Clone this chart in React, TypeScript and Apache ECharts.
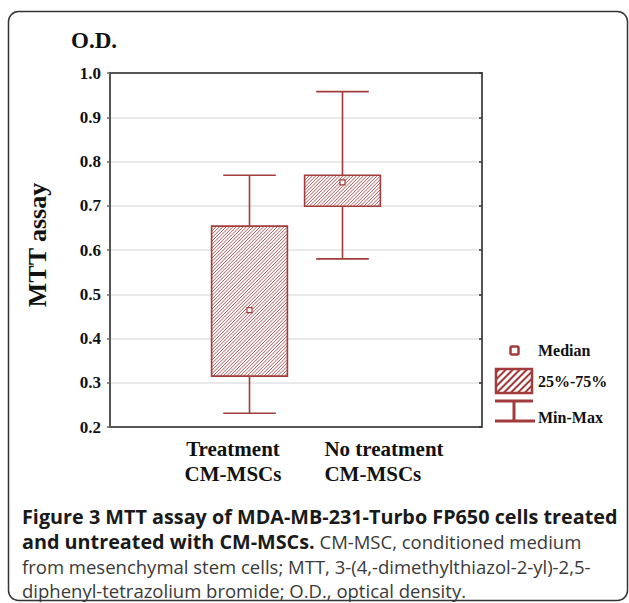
import React, { useEffect, useRef } from "react";
import * as echarts from "echarts";

const categories = ["Treatment\nCM-MSCs", "No treatment\nCM-MSCs"];
const minVals = [0.231, 0.58];
const q1Vals = [0.315, 0.699];
const medianVals = [0.464, 0.753];
const q3Vals = [0.654, 0.769];
const maxVals = [0.769, 0.958];
const yMin = 0.2;
const yMax = 1.0;
const yStep = 0.1;
const legendLabels = ["Median", "25%-75%", "Min-Max"];
const titleText = "O.D.";
const yName = "MTT assay";

const RED = "#a23b3b";
const SERIF = "'Liberation Serif', 'Times New Roman', serif";
const SANS = "'Open Sans', 'Noto Sans', sans-serif";

function hatchSegments(x0: number, y0: number, x1: number, y1: number, step: number) {
  const segs: number[][] = [];
  for (let c = x0 + y0 + step / 2; c < x1 + y1; c += step) {
    const ax = Math.max(x0, c - y1);
    const bx = Math.min(x1, c - y0);
    if (ax < bx) segs.push([ax, c - ax, bx, c - bx]);
  }
  return segs;
}

export default function App() {
  const ref = useRef<HTMLDivElement>(null);
  useEffect(() => {
    if (!ref.current) return;
    const chart = echarts.init(ref.current, null, { renderer: "svg" });
    const slots = ["", ...categories, ""];
    const xData = slots.map((s, i) => {
      if (i === 1) return { value: s, textStyle: { padding: [0, 33, 0, 0] } };
      if (i === 2) return { value: s, textStyle: { padding: [0, 0, 0, 83] } };
      return { value: s };
    });
    const rows = categories.map((_, i) => [i + 1, minVals[i], q1Vals[i], medianVals[i], q3Vals[i], maxVals[i]]);

    const legendHatch = hatchSegments(496, 369, 532, 393, 7).map((s) => ({
      type: "line",
      shape: { x1: s[0], y1: s[1], x2: s[2], y2: s[3] },
      style: { stroke: RED, lineWidth: 2 },
      silent: true,
    }));

    const captionLines = [
      { y: 516, text: "{b|Figure 3 MTT assay of MDA-MB-231-Turbo FP650 cells treated}" },
      { y: 541, text: "{b|and untreated with CM-MSCs.}{r| CM-MSC, conditioned medium}" },
      { y: 566, text: "{r|from mesenchymal stem cells; MTT, 3-(4,-dimethylthiazol-2-yl)-2,5-}" },
      { y: 590, text: "{r|diphenyl-tetrazolium bromide; O.D., optical density.}" },
    ];

    const option: any = {
      animation: false,
      backgroundColor: "#ffffff",
      title: {
        text: titleText,
        left: 66,
        top: 24,
        textStyle: { fontFamily: SERIF, fontWeight: "bold", fontSize: 23, color: "#111" },
      },
      grid: { left: 110, top: 73, right: 147, bottom: 176 },
      xAxis: [
        {
          type: "category",
          data: xData,
          position: "bottom",
          boundaryGap: true,
          axisLine: { lineStyle: { color: "#555", width: 2 } },
          axisTick: { alignWithLabel: true, inside: true, length: 3, lineStyle: { color: "#333", width: 1.5 } },
          axisLabel: {
            interval: 0,
            margin: 9,
            fontFamily: SERIF,
            fontWeight: "bold",
            fontSize: 21,
            lineHeight: 25,
            color: "#111",
            formatter: (v: string, idx: number) => {
              if (!v) return "";
              const key = idx === 2 ? "l" : "c";
              return v.split("\n").map((p) => `{${key}|${p}}`).join("\n");
            },
            rich: {
              c: { align: "center", fontFamily: SERIF, fontWeight: "bold", fontSize: 21, lineHeight: 25, color: "#111" },
              l: { align: "left", fontFamily: SERIF, fontWeight: "bold", fontSize: 21, lineHeight: 25, color: "#111" },
            },
          },
          splitLine: { show: false },
        },
        {
          type: "category",
          data: slots,
          position: "top",
          boundaryGap: true,
          axisLine: { lineStyle: { color: "#555", width: 2 } },
          axisTick: { alignWithLabel: true, inside: true, length: 3, lineStyle: { color: "#333", width: 1.5 } },
          axisLabel: { show: false },
          splitLine: { show: false },
        },
      ],
      yAxis: [
        {
          type: "value",
          min: yMin,
          max: yMax,
          interval: yStep,
          position: "left",
          name: yName,
          nameLocation: "middle",
          nameRotate: 90,
          nameGap: 60,
          nameTextStyle: { fontFamily: SERIF, fontWeight: "bold", fontSize: 26, color: "#111", padding: [0, 0, 0, 10] },
          axisLine: { show: true, lineStyle: { color: "#555", width: 2 } },
          axisTick: { show: true, inside: false, length: 3, lineStyle: { color: "#666", width: 1.5 } },
          splitLine: { show: true, lineStyle: { color: "#e2e2e2", width: 1.5 } },
          axisLabel: {
            formatter: (v: number) => v.toFixed(1),
            fontFamily: SERIF,
            fontWeight: "bold",
            fontSize: 17,
            color: "#111",
            margin: 9,
            padding: [0, 0, 6, 0],
          },
        },
        {
          type: "value",
          min: yMin,
          max: yMax,
          interval: yStep,
          position: "right",
          axisLine: { show: true, lineStyle: { color: "#555", width: 2 } },
          axisTick: { show: true, inside: true, length: 3, lineStyle: { color: "#333", width: 1.5 } },
          splitLine: { show: false },
          axisLabel: { show: false },
        },
      ],
      series: [
        {
          type: "custom",
          xAxisIndex: 0,
          yAxisIndex: 0,
          data: rows,
          renderItem: (params: any, api: any) => {
            const idx = api.value(0);
            const x = api.coord([idx, api.value(1)])[0];
            const yLo = api.coord([idx, api.value(1)])[1];
            const yQ1 = api.coord([idx, api.value(2)])[1];
            const yMed = api.coord([idx, api.value(3)])[1];
            const yQ3 = api.coord([idx, api.value(4)])[1];
            const yHi = api.coord([idx, api.value(5)])[1];
            const band = api.size([1, 0])[0];
            const bw = band * 0.815;
            const cw = band * 0.565;
            const lw = 1.6;
            const bx0 = x - bw / 2;
            const bx1 = x + bw / 2;
            const hatch = hatchSegments(bx0, yQ3, bx1, yQ1, 3.4).map((s) => ({
              type: "line",
              shape: { x1: s[0], y1: s[1], x2: s[2], y2: s[3] },
              style: { stroke: "#b04f4f", lineWidth: 0.95 },
            }));
            return {
              type: "group",
              children: [
                { type: "line", shape: { x1: x, y1: yLo, x2: x, y2: yQ1 }, style: { stroke: RED, lineWidth: lw } },
                { type: "line", shape: { x1: x, y1: yQ3, x2: x, y2: yHi }, style: { stroke: RED, lineWidth: lw } },
                { type: "line", shape: { x1: x - cw / 2, y1: yLo, x2: x + cw / 2, y2: yLo }, style: { stroke: RED, lineWidth: lw } },
                { type: "line", shape: { x1: x - cw / 2, y1: yHi, x2: x + cw / 2, y2: yHi }, style: { stroke: RED, lineWidth: lw } },
                { type: "rect", shape: { x: bx0, y: yQ3, width: bw, height: yQ1 - yQ3 }, style: { fill: "#fff", stroke: "none" } },
                ...hatch,
                { type: "rect", shape: { x: bx0, y: yQ3, width: bw, height: yQ1 - yQ3 }, style: { fill: "none", stroke: RED, lineWidth: lw } },
                { type: "rect", shape: { x: x - 2.5, y: yMed - 2.5, width: 5, height: 5 }, style: { fill: "#fff", stroke: RED, lineWidth: 1.2 } },
              ],
            };
          },
        },
      ],
      graphic: [
        {
          type: "rect",
          shape: { x: 8.5, y: 11.5, width: 619, height: 589, r: 10 },
          style: { fill: "none", stroke: "#333", lineWidth: 1.5 },
          silent: true,
          z: -1,
        },
        // legend
        { type: "rect", shape: { x: 510.5, y: 346.5, width: 8, height: 8, r: 1.5 }, style: { fill: "#fff", stroke: RED, lineWidth: 2.5 } },
        { type: "text", x: 538, y: 350, style: { text: legendLabels[0], fontFamily: SERIF, fontWeight: "bold", fontSize: 16, fill: "#111", verticalAlign: "middle" } },
        { type: "rect", shape: { x: 496, y: 369, width: 36, height: 24 }, style: { fill: "#fff", stroke: "none" } },
        ...legendHatch,
        { type: "rect", shape: { x: 496, y: 369, width: 36, height: 24 }, style: { fill: "none", stroke: RED, lineWidth: 2.5 } },
        { type: "text", x: 538, y: 381, style: { text: legendLabels[1], fontFamily: SERIF, fontWeight: "bold", fontSize: 16, fill: "#111", verticalAlign: "middle" } },
        { type: "line", shape: { x1: 495, y1: 401, x2: 533, y2: 401 }, style: { stroke: RED, lineWidth: 3 } },
        { type: "line", shape: { x1: 514, y1: 401, x2: 514, y2: 421 }, style: { stroke: RED, lineWidth: 3 } },
        { type: "line", shape: { x1: 495, y1: 421, x2: 535, y2: 421 }, style: { stroke: RED, lineWidth: 3 } },
        { type: "text", x: 538, y: 417, style: { text: legendLabels[2], fontFamily: SERIF, fontWeight: "bold", fontSize: 16, fill: "#111", verticalAlign: "middle" } },
        // caption
        ...captionLines.map((l) => ({
          type: "text",
          x: 22,
          y: l.y,
          style: {
            text: l.text,
            verticalAlign: "middle",
            rich: {
              b: { fontFamily: SANS, fontWeight: "bold", fontSize: 19.8, lineHeight: 21, fill: "#1a1a1a", color: "#1a1a1a" },
              r: { fontFamily: SANS, fontWeight: "normal", fontSize: 18.5, lineHeight: 21, fill: "#3a3a3a", color: "#3a3a3a" },
            },
          },
        })),
      ],
    };
    chart.setOption(option);
    return () => chart.dispose();
  }, []);
  return <div ref={ref} style={{ position: "absolute", left: 0, top: 0, width: 629, height: 603 }} />;
}
